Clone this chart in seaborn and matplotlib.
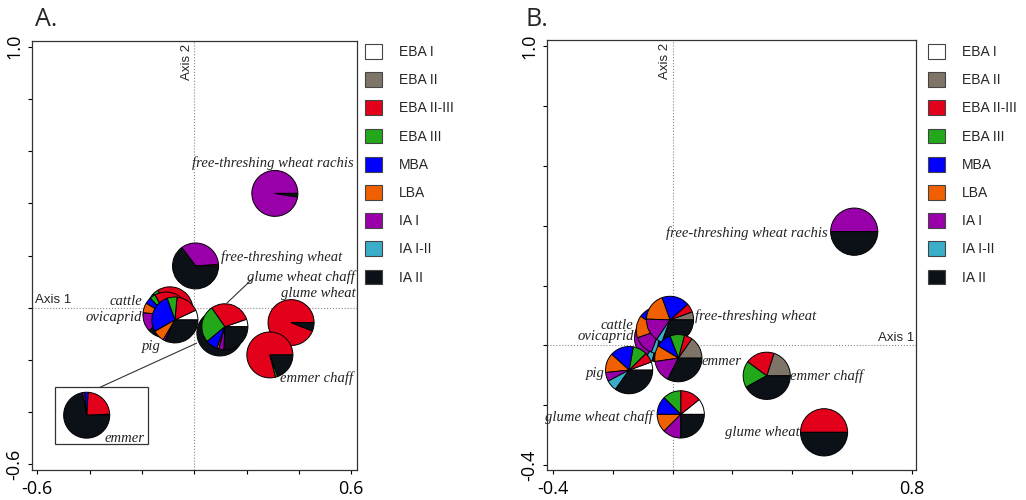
import matplotlib
matplotlib.use("Agg")
import matplotlib.pyplot as plt
import matplotlib.patches as mpatches
import seaborn as sns

sns.set_theme(style="ticks")
plt.rcParams["font.family"] = ["Liberation Sans", "DejaVu Sans"]

# ------------------------------------------------------------------
# data
# ------------------------------------------------------------------
periods = ["EBA I", "EBA II", "EBA II-III", "EBA III", "MBA", "LBA",
           "IA I", "IA I-II", "IA II"]
period_colors = ["#ffffff", "#7f7468", "#e3001b", "#22a81a", "#0000ff",
                 "#f06000", "#9900aa", "#3aadc9", "#0c1118"]

# panel A: sample scores on axis 1 / axis 2 and period shares
a_samples = ["cattle", "ovicaprid", "pig", "free-threshing wheat", "emmer",
             "glume wheat chaff", "glume wheat", "emmer chaff",
             "free-threshing wheat rachis"]
a_x = [-0.093, -0.108, -0.074, 0.005, 0.098, 0.117, 0.370, 0.289, 0.308]
a_y = [-0.008, -0.028, -0.047, 0.160, -0.097, -0.073, -0.057, -0.181, 0.438]
a_shares = [
    [0.04, 0, 0.30, 0.04, 0.05, 0.06, 0.06, 0, 0.45],
    [0, 0, 0.33, 0.04, 0.045, 0.07, 0.135, 0, 0.38],
    [0.07, 0, 0.165, 0.07, 0.278, 0.083, 0.015, 0, 0.319],
    [0, 0, 0, 0, 0, 0.012, 0.34, 0, 0.648],
    [0, 0.008, 0.232, 0, 0.025, 0, 0.015, 0, 0.72],
    [0.053, 0, 0.294, 0.264, 0.083, 0.014, 0.036, 0, 0.256],
    [0, 0, 0.94, 0, 0, 0, 0, 0, 0.06],
    [0, 0, 0.79, 0.015, 0, 0, 0, 0, 0.195],
    [0, 0, 0, 0, 0, 0, 0.975, 0, 0.025],
]

# panel B
b_samples = ["ovicaprid", "cattle", "free-threshing wheat", "emmer", "pig",
             "glume wheat chaff", "emmer chaff", "glume wheat",
             "free-threshing wheat rachis"]
b_x = [-0.049, -0.043, -0.009, 0.019, -0.146, 0.027, 0.315, 0.507, 0.608]
b_y = [0.024, 0.051, 0.085, -0.043, -0.083, -0.231, -0.102, -0.291, 0.380]
b_shares = [
    [0, 0, 0.08, 0.08, 0.10, 0.20, 0.20, 0.05, 0.29],
    [0, 0, 0.10, 0.06, 0.24, 0.153, 0.139, 0.04, 0.268],
    [0, 0.055, 0.06, 0, 0.19, 0.19, 0.16, 0.04, 0.305],
    [0, 0.153, 0.055, 0.10, 0.105, 0.11, 0.153, 0, 0.324],
    [0.056, 0, 0.069, 0.097, 0.161, 0.133, 0.061, 0.075, 0.348],
    [0.108, 0, 0.142, 0.125, 0.125, 0.125, 0.125, 0, 0.25],
    [0, 0.20, 0.20, 0.18, 0, 0, 0, 0, 0.42],
    [0, 0, 0.5, 0, 0, 0, 0, 0, 0.5],
    [0, 0, 0, 0, 0, 0, 0.5, 0, 0.5],
]

# ------------------------------------------------------------------
# layout (label positions in data units)
# ------------------------------------------------------------------
a_labels = {
    "free-threshing wheat rachis": (0.300, 0.554, "center"),
    "free-threshing wheat": (0.103, 0.193, "left"),
    "glume wheat chaff": (0.614, 0.118, "right"),
    "glume wheat": (0.618, 0.056, "right"),
    "emmer chaff": (0.608, -0.270, "right"),
    "cattle": (-0.200, 0.023, "right"),
    "ovicaprid": (-0.200, -0.038, "right"),
    "pig": (-0.163, -0.149, "center"),
}
b_labels = {
    "free-threshing wheat rachis": (0.520, 0.375, "right"),
    "free-threshing wheat": (0.075, 0.096, "left"),
    "cattle": (-0.133, 0.065, "right"),
    "ovicaprid": (-0.130, 0.028, "right"),
    "emmer": (0.098, -0.053, "left"),
    "emmer chaff": (0.393, -0.103, "left"),
    "pig": (-0.227, -0.093, "right"),
    "glume wheat chaff": (-0.066, -0.240, "right"),
    "glume wheat": (0.426, -0.290, "right"),
}
label_font = dict(family=["Liberation Serif", "DejaVu Serif"], style="italic",
                  fontsize=10.5, color="#222222")
tick_font = ["Open Sans", "DejaVu Sans"]


def draw_pie(ax, shares, x, y, r):
    vals = [s for s in shares if s > 0]
    cols = [c for s, c in zip(shares, period_colors) if s > 0]
    ax.pie(vals, colors=cols, startangle=0, counterclock=True,
           center=(x, y), radius=r, frame=True,
           wedgeprops=dict(edgecolor="black", linewidth=0.7))


def style_axes(ax, xlim, ylim, xticks, xlab, yticks, ylab):
    ax.set_aspect("auto")
    ax.set_xlim(*xlim)
    ax.set_ylim(*ylim)
    ax.set_xticks(xticks, xlab, fontfamily=tick_font, fontsize=13)
    ax.set_yticks(yticks, ylab, fontfamily=tick_font, fontsize=13,
                  rotation=90, va="center")
    ax.tick_params(direction="out", length=3, width=0.8, pad=4,
                   colors="black")
    ax.tick_params(axis="y", pad=3)
    for s in ax.spines.values():
        s.set_color("#333333")
        s.set_linewidth(0.9)
    ax.axhline(0, color="#888888", ls=":", lw=0.8, zorder=0.5)
    ax.axvline(0, color="#888888", ls=":", lw=0.8, zorder=0.5)


fig = plt.figure(figsize=(10.26, 5.0), dpi=100)
ax_a = fig.add_axes([32 / 1026, 30 / 500, 325 / 1026, 429 / 500])
ax_b = fig.add_axes([547 / 1026, 30 / 500, 369 / 1026, 430 / 500])

# ---------------- panel A ----------------
r_a = 0.088
for name, x, y, sh in zip(a_samples, a_x, a_y, a_shares):
    draw_pie(ax_a, sh, x, y, r_a)

# enlarged emmer in an inset box
emmer = a_shares[a_samples.index("emmer")]
ax_a.add_patch(mpatches.Rectangle((-0.532, -0.522), 0.356, 0.217,
                                  fill=False, edgecolor="#333333", lw=0.9))
draw_pie(ax_a, emmer, -0.411, -0.412, r_a)
ax_a.plot([-0.360, 0.009], [-0.305, -0.136], color="#333333", lw=0.8)
ax_a.plot([0.124, 0.225], [0.017, 0.113], color="#333333", lw=0.8)
ax_a.text(-0.188, -0.500, "emmer", ha="right", va="center", **label_font)

for name, (lx, ly, ha) in a_labels.items():
    ax_a.text(lx, ly, name, ha=ha, va="center", **label_font)

style_axes(ax_a, (-0.62, 0.622), (-0.622, 1.022),
           [-0.6, -0.4, -0.2, 0, 0.2, 0.4, 0.6],
           ["-0.6", "", "", "", "", "", "0.6"],
           [-0.6, -0.4, -0.2, 0, 0.2, 0.4, 0.6, 0.8, 1.0],
           ["-0.6", "", "", "", "", "", "", "", "1.0"])
ax_a.text(-0.61, 0.008, "Axis 1", ha="left", va="bottom", fontsize=9.5)
ax_a.text(-0.006, 1.01, "Axis 2", ha="right", va="top", rotation=90,
          fontsize=9.5)

# ---------------- panel B ----------------
r_b = 0.079
for name, x, y, sh in zip(b_samples, b_x, b_y, b_shares):
    draw_pie(ax_b, sh, x, y, r_b)
for name, (lx, ly, ha) in b_labels.items():
    ax_b.text(lx, ly, name, ha=ha, va="center", **label_font)

style_axes(ax_b, (-0.421, 0.815), (-0.417, 1.021),
           [-0.4, -0.2, 0, 0.2, 0.4, 0.6, 0.8],
           ["-0.4", "", "", "", "", "", "0.8"],
           [-0.4, -0.2, 0, 0.2, 0.4, 0.6, 0.8, 1.0],
           ["-0.4", "", "", "", "", "", "", "1.0"])
ax_b.text(0.81, 0.006, "Axis 1", ha="right", va="bottom", fontsize=9.5)
ax_b.text(-0.006, 1.01, "Axis 2", ha="right", va="top", rotation=90,
          fontsize=9.5)

# ---------------- legends ----------------
handles = [mpatches.Patch(facecolor=c, edgecolor="#444444", linewidth=0.8,
                          label=p) for p, c in zip(periods, period_colors)]
for ax, x0 in [(ax_a, 365), (ax_b, 928)]:
    ax.legend(handles=handles, loc="upper left",
              bbox_to_anchor=(x0 / 1026, 1 - 44 / 500),
              bbox_transform=fig.transFigure, frameon=False, fontsize=10,
              handlelength=1.25, handleheight=1.25, handletextpad=1.2,
              labelspacing=0.95, borderpad=0, borderaxespad=0)

fig.text(35 / 1026, 1 - 20 / 500, "A.", fontsize=18, va="center",
         fontfamily=tick_font)
fig.text(525 / 1026, 1 - 20 / 500, "B.", fontsize=18, va="center",
         fontfamily=tick_font)

fig.savefig("out.png", dpi=100)
